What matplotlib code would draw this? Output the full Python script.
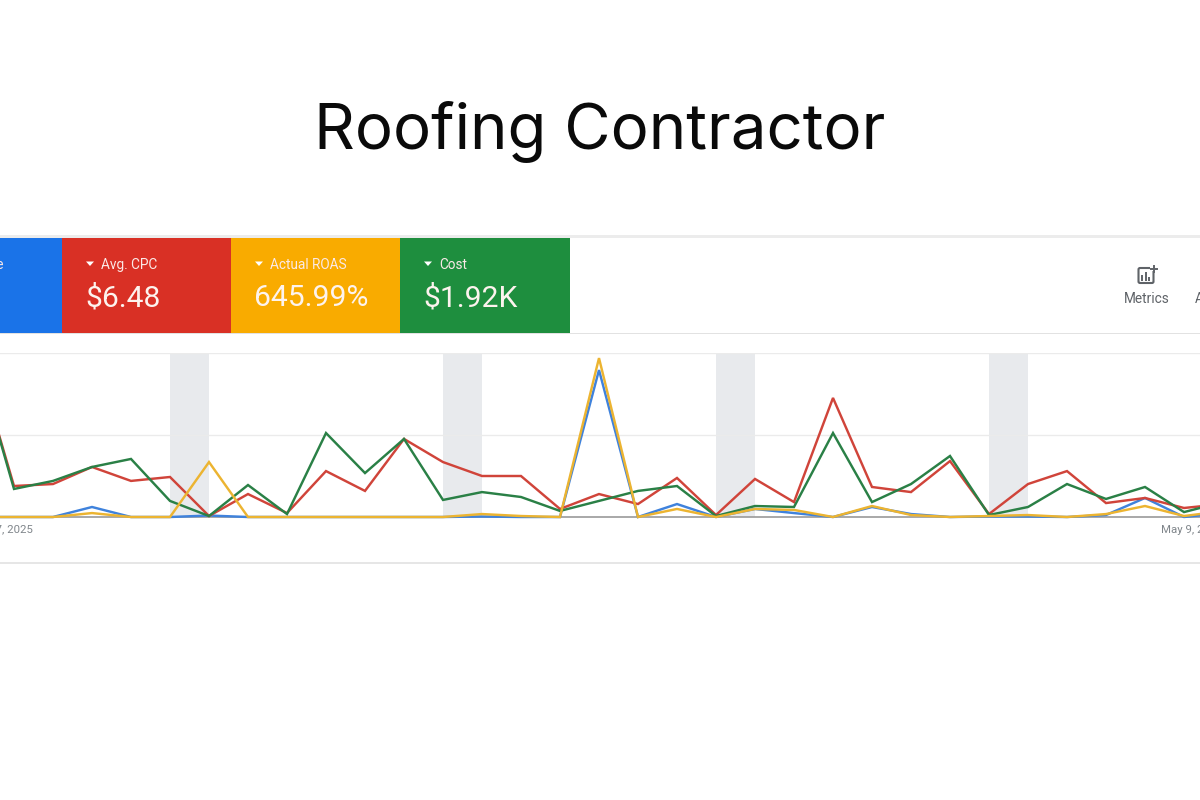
import matplotlib
matplotlib.use("Agg")
import matplotlib.pyplot as plt
from matplotlib.patches import Rectangle, Polygon, FancyBboxPatch

# ---- data (share of chart height) ----
title_text = "Roofing Contractor"
tile_names = ["Conv. value", "Avg. CPC", "Actual ROAS", "Cost"]
tile_values = ["", "$6.48", "645.99%", "$1.92K"]
tile_colors = ["#1a73e8", "#d93025", "#f9ab00", "#1e8e3e"]
days = list(range(33))
tick_days = [0, 32]
tick_labels = ["Apr 7, 2025", "May 9, 2025"]
weekend_starts = [5, 12, 19, 26]
blue = [0, 0, 0, 6.1, 0, 0, 0.9, 0, 0, 0, 0, 0, 0, 0.3, 0, 0, 89.6, 0, 7.9, 0, 4.9, 2.4, 0, 6.1, 1.8, 0, 0.3, 0.3, 0, 1.2, 11.6, 0, 2.4]
red = [100, 18.9, 20.1, 30.5, 22, 24.4, 0.6, 14, 2.4, 28, 15.9, 47.6, 33.5, 25, 25, 4.9, 14, 7.9, 23.8, 1.2, 23.2, 9.1, 72.6, 18.3, 15.2, 34.1, 1.8, 20.1, 28, 8.5, 11.6, 5.5, 7.9]
green = [100, 17.1, 22, 30.5, 35.4, 9.8, 0.6, 19.5, 1.8, 51.2, 26.8, 47.6, 10.4, 15.2, 12.2, 3.7, 9.8, 15.9, 18.9, 0.6, 6.7, 6.1, 51.2, 9.1, 20.1, 37.2, 1.2, 6.1, 20.1, 11, 18.3, 3, 9.1]
yellow = [0, 0, 0, 2.4, 0, 0, 33.5, 0, 0, 0, 0, 0, 0, 1.8, 0.6, 0, 96.9, 0, 4.9, 0, 4.9, 4.3, 0, 6.7, 1.2, 0, 0.6, 1.2, 0, 1.8, 6.7, 0.6, 3.6]
series = [(blue, "#3f82dc"), (red, "#d0443a"), (green, "#2a8046"), (yellow, "#ecb431")]

W, H = 1200, 800
fig = plt.figure(figsize=(12, 8), dpi=100, facecolor="white")

# overlay in pixel coordinates for the dashboard furniture
ov = fig.add_axes([0, 0, 1, 1], zorder=1)
ov.set_xlim(0, W); ov.set_ylim(H, 0); ov.axis("off")

ov.text(600, 131, title_text, ha="center", va="center", fontsize=45.7,
        family="Inter", color="#0a0a0a", fontweight="normal")

ov.add_patch(Rectangle((-2, 235), W + 4, 3, color="#ececec", lw=0))
ov.add_patch(Rectangle((-2, 332.5), W + 4, 1.2, color="#e2e2e2", lw=0))
ov.add_patch(Rectangle((-2, 561.5), W + 4, 2, color="#e6e6e6", lw=0))

tile_edges = [-105, 62, 231, 400, 570]
for i, (nm, val, col) in enumerate(zip(tile_names, tile_values, tile_colors)):
    l, r = tile_edges[i], tile_edges[i + 1]
    ov.add_patch(Rectangle((l, 238), r - l, 95, color=col, lw=0))
    tx = l + 24
    ov.add_patch(Polygon([(tx, 261.5), (tx + 8, 261.5), (tx + 4, 266)], color="white", lw=0))
    ov.text(tx + 15, 265, nm, ha="left", va="center", fontsize=9.8, family="Roboto", color="#fbe9e7")
    if val:
        ov.text(tx - 1, 298.5, val, ha="left", va="center", fontsize=21.6, family="Roboto",
                color="#fdf3ee")

# metrics button
icon = "#5f6368"
ov.add_patch(FancyBboxPatch((1138.5, 268), 15, 15, boxstyle="round,pad=0,rounding_size=1.5",
                            fc="none", ec=icon, lw=1.5))
for bx, bh in [(1142, 6), (1145.5, 9), (1149, 4)]:
    ov.plot([bx, bx], [280.5, 280.5 - bh], color=icon, lw=1.4, solid_capstyle="butt")
ov.add_patch(Rectangle((1150, 265), 8, 6, color="white", lw=0))
ov.plot([1151, 1157], [269, 269], color=icon, lw=1.4)
ov.plot([1154, 1154], [266, 272], color=icon, lw=1.4)
ov.text(1146.5, 299, "Metrics", ha="center", va="center", fontsize=9.8, family="Roboto", color=icon)
ov.text(1195, 299, "Ads", ha="left", va="center", fontsize=9.8, family="Roboto", color=icon)

# chart axes: x from day 0 (px -25) to day 32 (px 1223), y 0..100 (px 517..353)
ax = fig.add_axes([-25 / W, 1 - 517 / H, 1248 / W, 164 / H], zorder=2)
ax.patch.set_alpha(0)
ax.set_xlim(0, 32); ax.set_ylim(0, 100)
for s in ax.spines.values():
    s.set_visible(False)
ax.spines["bottom"].set_visible(True)
ax.spines["bottom"].set_color("#9a9a9a")
ax.spines["bottom"].set_linewidth(1.2)
ax.set_yticks([50, 100])
ax.tick_params(axis="y", length=0, labelleft=False)
ax.grid(axis="y", color="#ebebeb", lw=1)
ax.set_axisbelow(True)
for d in weekend_starts:
    ax.axvspan(d, d + 1, color="#e8eaed", lw=0, zorder=0.5)
for vals, col in series:
    ax.plot(days, vals, color=col, lw=1.75, solid_joinstyle="miter", clip_on=False, zorder=3)
ax.set_xticks(tick_days)
ax.set_xticklabels(tick_labels, fontsize=8.2, family="Roboto", color="#80868b")
ax.tick_params(axis="x", length=0, pad=6)
ax.get_xticklabels()[0].set_ha("left")
ax.get_xticklabels()[1].set_ha("right")

fig.savefig("out.png", dpi=100)
